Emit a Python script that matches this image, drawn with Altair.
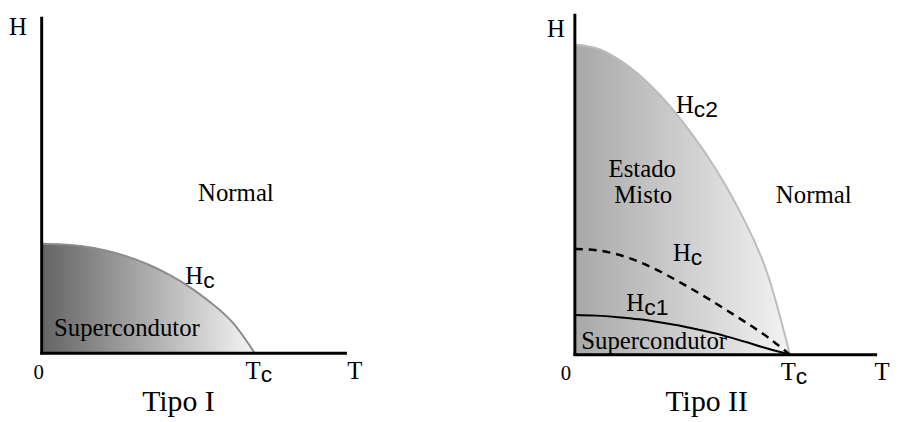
import altair as alt
import pandas as pd

# ---- values (T in units of Tc, H in units of the curve's H(0)) ----
T_GRID = [0.0, 0.1, 0.2, 0.3, 0.4, 0.5, 0.6, 0.7, 0.8, 0.9, 1.0]
HC_TIPO1 = [1.0, 0.994, 0.974, 0.938, 0.884, 0.81, 0.715, 0.597, 0.452, 0.272, 0.0]
HC2_TIPO2 = [1.0, 0.988, 0.954, 0.902, 0.834, 0.752, 0.657, 0.547, 0.417, 0.252, 0.0]
HC_TIPO2 = [0.341, 0.337, 0.323, 0.299, 0.267, 0.229, 0.189, 0.146, 0.102, 0.055, 0.0]
HC1_TIPO2 = [0.128, 0.126, 0.121, 0.114, 0.104, 0.092, 0.077, 0.06, 0.04, 0.019, 0.0]

# axis extents (data units)
AX1_T_END, AX1_H_END = 1.4326, 3.072
AX2_T_END, AX2_H_END = 1.4055, 1.099

# text labels: (text, T, H)
LAB1 = [("H", -0.1116, 2.9095), ("Normal", 0.9116, 1.392),
        ("Supercondutor", 0.40, 0.1584), ("T", 1.4698, -0.2308)]
ZERO1 = [("0", -0.014, -0.2308)]
SUB1 = [("H", "c", 0.7581, 0.629), ("T", "c", 1.0279, -0.2308)]
TITLE1 = [("Tipo I", 0.6419, -0.5294)]

LAB2 = [("H", -0.0876, 1.0256), ("Estado", 0.3134, 0.5728), ("Misto", 0.318, 0.4879),
        ("Normal", 1.1106, 0.4879), ("Supercondutor", 0.3687, 0.0192), ("T", 1.4286, -0.0831)]
ZERO2 = [("0", -0.0415, -0.0831)]
SUB2 = [("H", "c2", 0.553, 0.7805), ("H", "c", 0.5392, 0.3013),
        ("H", "c1", 0.3226, 0.1406), ("T", "c", 1.0276, -0.0831)]
TITLE2 = [("Tipo II", 0.6129, -0.1821)]

SERIF = "Liberation Serif"
SANS = "Liberation Sans"
INTERP = "natural"


def lab_df(rows):
    return pd.DataFrame(rows, columns=["text", "T", "H"])


def sub_df(rows):
    return pd.DataFrame(rows, columns=["main", "sub", "T", "H"])


def panel(width, height, tdom, hdom, fills, lines, axis_t_end, axis_h_end,
          labs, zeros, subs, titles):
    xs = alt.Scale(domain=tdom, nice=False, zero=False)
    ys = alt.Scale(domain=hdom, nice=False, zero=False)
    X = lambda f="T": alt.X(f"{f}:Q", scale=xs, axis=None)
    Y = lambda f="H": alt.Y(f"{f}:Q", scale=ys, axis=None)
    layers = []
    for vals, c0, c1 in fills:
        df = pd.DataFrame({"T": T_GRID, "H": vals})
        layers.append(
            alt.Chart(df).mark_area(
                interpolate=INTERP,
                color=alt.Gradient(gradient="linear",
                                   stops=[alt.GradientStop(color=c0, offset=0),
                                          alt.GradientStop(color=c1, offset=1)],
                                   x1=0, x2=1, y1=0, y2=0),
            ).encode(x=X(), y=Y(), y2=alt.datum(0))
        )
    for vals, col, sw, dash in lines:
        df = pd.DataFrame({"T": T_GRID, "H": vals})
        kw = dict(interpolate=INTERP, color=col, strokeWidth=sw)
        if dash:
            kw["strokeDash"] = dash
        layers.append(alt.Chart(df).mark_line(**kw).encode(x=X(), y=Y()))
    axes = pd.DataFrame({"T": [-0.006, 0.0], "T2": [axis_t_end, 0.0],
                         "H": [0.0, -0.004 * axis_h_end], "H2": [0.0, axis_h_end]})
    layers.append(alt.Chart(axes).mark_rule(color="black", strokeWidth=3).encode(
        x=X(), x2="T2:Q", y=Y(), y2="H2:Q"))
    layers.append(alt.Chart(lab_df(labs)).mark_text(
        font=SERIF, fontSize=25, align="center", baseline="alphabetic", color="black"
    ).encode(x=X(), y=Y(), text="text:N"))
    layers.append(alt.Chart(lab_df(zeros)).mark_text(
        font=SERIF, fontSize=21, align="center", baseline="alphabetic", color="black"
    ).encode(x=X(), y=Y(), text="text:N"))
    layers.append(alt.Chart(sub_df(subs)).mark_text(
        font=SERIF, fontSize=25, align="right", baseline="alphabetic", color="black"
    ).encode(x=X(), y=Y(), text="main:N"))
    layers.append(alt.Chart(sub_df(subs)).mark_text(
        font=SANS, fontSize=23, align="left", baseline="alphabetic", dy=4, color="black"
    ).encode(x=X(), y=Y(), text="sub:N"))
    layers.append(alt.Chart(lab_df(titles)).mark_text(
        font=SERIF, fontSize=30, align="center", baseline="alphabetic", color="black"
    ).encode(x=X(), y=Y(), text="text:N"))
    return alt.layer(*layers).properties(width=width, height=height)


p1 = panel(
    441, 406, [-0.1581, 1.8930], [-0.5385, 3.1357],
    fills=[(HC_TIPO1, "#646464", "#f4f4f4")],
    lines=[(HC_TIPO1, "#8c8c8c", 2, None)],
    axis_t_end=AX1_T_END, axis_h_end=AX1_H_END,
    labs=LAB1, zeros=ZERO1, subs=SUB1, titles=TITLE1,
)
p2 = panel(
    449, 406, [-0.6037, 1.4654], [-0.1853, 1.1118],
    fills=[(HC2_TIPO2, "#a8a8a8", "#f3f3f3")],
    lines=[(HC2_TIPO2, "#bcbcbc", 2, None),
           (HC_TIPO2, "black", 2.5, [8, 6]),
           (HC1_TIPO2, "black", 2, None)],
    axis_t_end=AX2_T_END, axis_h_end=AX2_H_END,
    labs=LAB2, zeros=ZERO2, subs=SUB2, titles=TITLE2,
)

chart = alt.hconcat(p1, p2, spacing=0).properties(padding=0).configure_view(stroke=None)
chart.save("out.html", embed_options={"renderer": "svg", "actions": False})
